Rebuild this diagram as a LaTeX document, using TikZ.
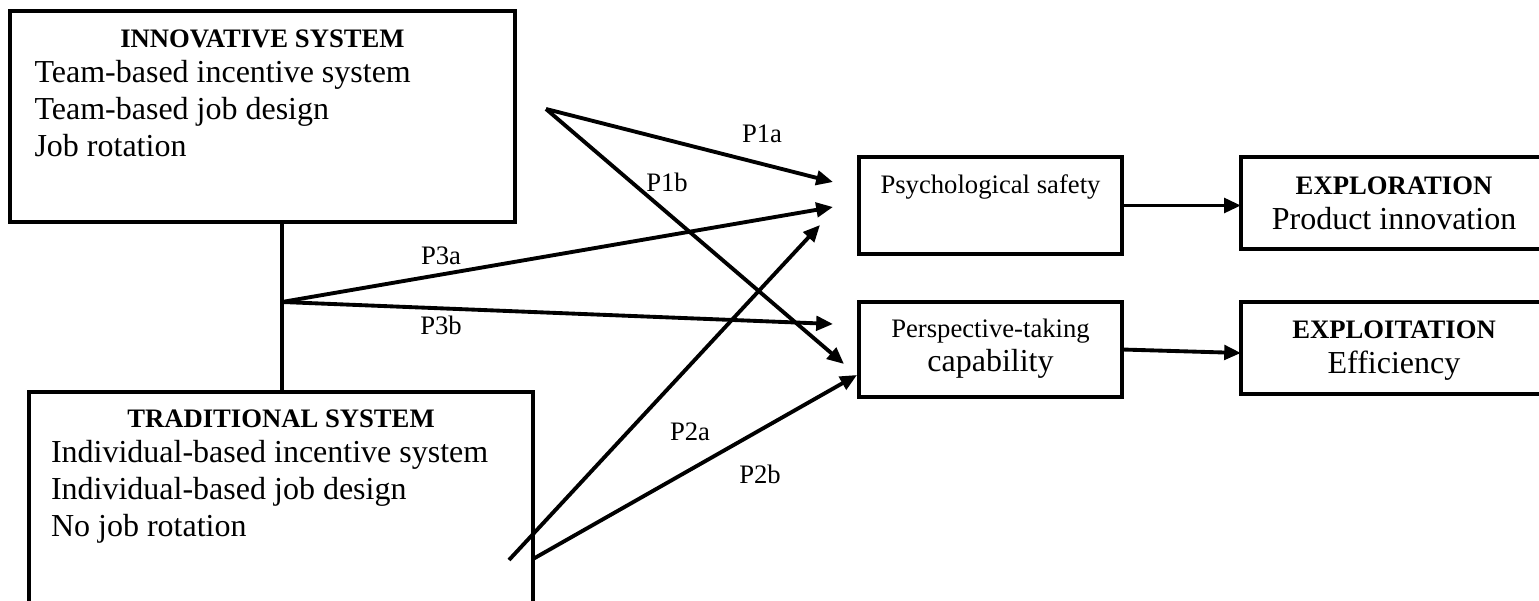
\documentclass[tikz,border=0pt]{standalone}
\usepackage{fontspec}
\setmainfont{Liberation Serif}
\usetikzlibrary{arrows.meta,calc}
\begin{document}
\begin{tikzpicture}[x=0.375pt,y=-0.375pt,
  box/.style={draw, line width=1.4pt, rectangle, inner sep=0pt, outer sep=0pt},
  conn/.style={line width=1.45pt},
  arr/.style={conn, -{Triangle[length=6.3pt,width=5.4pt]}},
  big/.style={font=\fontsize{12}{14}\selectfont, inner sep=0pt, anchor=base},
  bigl/.style={big, anchor=base west},
  small/.style={font=\fontsize{10}{12}\selectfont, inner sep=0pt, anchor=base},
  head/.style={font=\fontsize{10}{12}\selectfont\bfseries, inner sep=0pt, anchor=base}]
\useasboundingbox (0,0) rectangle (1539,601);
\clip (0,0) rectangle (1539,601);

% boxes
\node[box, minimum width=189.375pt, minimum height=79.125pt] (inno) at (262.5,116.5) {};
\node[box, minimum width=189pt, minimum height=93pt] (trad) at (281,516) {};
\node[box, minimum width=98.625pt, minimum height=36.375pt] (psych) at (990.5,205.5) {};
\node[box, minimum width=98.625pt, minimum height=35.625pt] (persp) at (990.5,349.5) {};
\node[box, minimum width=114.75pt, minimum height=34.5pt] (explor) at (1394,203) {};
\node[box, minimum width=114.75pt, minimum height=34.5pt] (exploit) at (1394,348) {};

% texts
\node[head] (innoH) at (262.5,48) {INNOVATIVE SYSTEM};
\node[bigl] (inno1) at (34,83) {Team-based incentive system};
\node[bigl] (inno2) at (34,120) {Team-based job design};
\node[bigl] (inno3) at (34,157) {Job rotation};

\node[head] (tradH) at (281,428) {TRADITIONAL SYSTEM};
\node[bigl] (trad1) at (50.5,463) {Individual-based incentive system};
\node[bigl] (trad2) at (50.5,500) {Individual-based job design};
\node[bigl] (trad3) at (50.5,537) {No job rotation};

\node[small] (psychT) at (990.5,194) {Psychological safety};
\node[small] (perspT1) at (990.5,338) {Perspective-taking};
\node[big] (perspT2) at (990.5,372) {capability};
\node[head] (explorH) at (1394,195) {EXPLORATION};
\node[big] (explorT) at (1394,230) {Product innovation};
\node[head] (exploitH) at (1394,339) {EXPLOITATION};
\node[big] (exploitT) at (1394,374) {Efficiency};

% labels
\node[small] (l1a) at (762,143) {P1a};
\node[small] (l1b) at (667,192) {P1b};
\node[small] (l3a) at (441,265) {P3a};
\node[small] (l3b) at (441,335) {P3b};
\node[small] (l2a) at (690,441) {P2a};
\node[small] (l2b) at (760,484) {P2b};

% connector points
\coordinate (J) at (282,302);
\coordinate (S1) at (546,109);
\coordinate (S2a) at (509,560);
\coordinate (S2b) at (533,559);
\coordinate (T1a) at (833,182);
\coordinate (T1b) at (844,364);
\coordinate (T3a) at (833,207);
\coordinate (T3b) at (833,324);
\coordinate (T2a) at (820,225);
\coordinate (T2b) at (857,375);

% connectors
\draw[conn] (J |- inno.south) -- (J |- trad.north);
\draw[arr] (S1) -- (T1a);
\draw[arr] (S1) -- (T1b);
\draw[arr] (J) -- (T3a);
\draw[arr] (J) -- (T3b);
\draw[arr] (S2a) -- (T2a);
\draw[arr] (S2b) -- (T2b);
\draw[arr] (psych.east) -- (psych.east -| explor.west);
\draw[arr] (persp.east) -- ($(exploit.west)+(0,5)$);
\end{tikzpicture}
\end{document}
